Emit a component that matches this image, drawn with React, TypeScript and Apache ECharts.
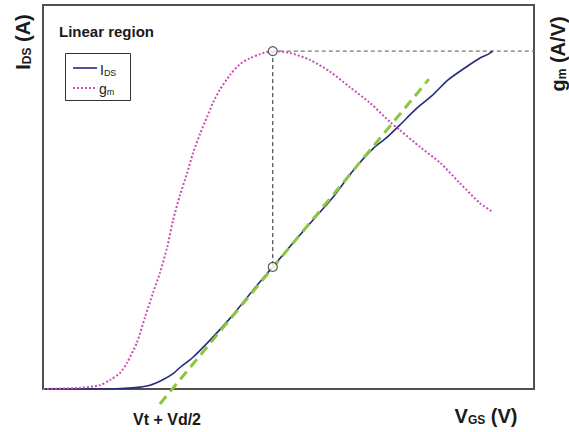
import React, { useEffect, useRef } from "react";
import * as echarts from "echarts";

// I_DS curve (V_GS, I_DS) in arbitrary units
const idsX = [0, 0.75, 1.36, 1.83, 2.18, 2.44, 2.65, 2.79, 3.05, 3.46, 3.87, 4.28, 4.68, 5.09, 5.5, 5.91, 6.31, 6.72, 7.01, 7.27, 7.62, 7.94, 8.25, 8.59, 8.9, 9.04, 9.16];
const idsY = [0, 0, 0, 0.03, 0.1, 0.24, 0.4, 0.56, 0.82, 1.35, 1.93, 2.58, 3.18, 3.8, 4.4, 5.0, 5.68, 6.26, 6.56, 6.88, 7.32, 7.66, 8.05, 8.36, 8.62, 8.7, 8.8];

// g_m curve
const gmX = [0, 0.75, 1.16, 1.36, 1.57, 1.71, 1.91, 2.08, 2.24, 2.38, 2.53, 2.65, 2.79, 2.93, 3.05, 3.2, 3.34, 3.46, 3.6, 3.81, 4.01, 4.22, 4.42, 4.68, 5.03, 5.44, 5.85, 6.25, 6.66, 7.07, 7.27, 7.68, 8.09, 8.49, 8.9, 9.16];
const gmY = [0, 0.03, 0.1, 0.23, 0.42, 0.68, 1.2, 1.88, 2.5, 3.02, 3.7, 4.4, 5.05, 5.6, 6.12, 6.65, 7.08, 7.45, 7.79, 8.18, 8.46, 8.62, 8.72, 8.8, 8.75, 8.57, 8.26, 7.86, 7.45, 6.95, 6.74, 6.3, 5.89, 5.36, 4.84, 4.61];

// tangent (linear extrapolation) line
const tangentX = [2.38, 7.86];
const tangentY = [-0.39, 8.07];

// marker positions
const peakX = 4.68;
const peakGm = 8.8;
const peakIds = 3.18;
const axisMaxX = 10;

const FONT = "'Liberation Sans', Arial, Helvetica, sans-serif";
const IDS_COLOR = "#262a7c";
const GM_COLOR = "#c94fb6";
const TEXT = "#1a1a1a";

export default function App() {
  const ref = useRef<HTMLDivElement>(null);
  useEffect(() => {
    if (!ref.current) return;
    const chart = echarts.init(ref.current, undefined, { renderer: "svg" });
    const zip = (xs: number[], ys: number[]) => xs.map((x, i) => [x, ys[i]]);
    const bigRich = {
      a: { font: `bold 20px ${FONT}`, fill: TEXT, verticalAlign: "bottom", lineHeight: 24 },
      b: { font: `bold 12px ${FONT}`, fill: TEXT, verticalAlign: "bottom", lineHeight: 17 },
    };
    const legRich = {
      a: { font: `14px ${FONT}`, fill: TEXT, verticalAlign: "bottom", lineHeight: 16 },
      b: { font: `9px ${FONT}`, fill: TEXT, verticalAlign: "bottom", lineHeight: 12 },
    };
    chart.setOption({
      animation: false,
      textStyle: { fontFamily: FONT },
      grid: {
        left: 43,
        right: 35,
        top: 5,
        bottom: 43,
        show: true,
        borderColor: "#505050",
        borderWidth: 2,
      },
      xAxis: {
        type: "value",
        min: 0,
        max: axisMaxX,
        axisLine: { show: false },
        axisTick: { show: false },
        axisLabel: { show: false },
        splitLine: { show: false },
      },
      yAxis: {
        type: "value",
        min: 0,
        max: 10,
        axisLine: { show: false },
        axisTick: { show: false },
        axisLabel: { show: false },
        splitLine: { show: false },
      },
      series: [
        {
          name: "tangent",
          type: "line",
          data: zip(tangentX, tangentY),
          showSymbol: false,
          symbol: "none",
          clip: false,
          lineStyle: { color: "#8cc63f", width: 3, type: [10, 6] },
          z: 3,
        },
        {
          name: "IDS",
          type: "line",
          data: zip(idsX, idsY),
          symbol: "none",
          smooth: 0.25,
          lineStyle: { color: IDS_COLOR, width: 1.6 },
          z: 2,
        },
        {
          name: "gm",
          type: "line",
          data: zip(gmX, gmY),
          symbol: "none",
          smooth: 0.25,
          lineStyle: { color: GM_COLOR, width: 2, type: [2, 2] },
          z: 2,
        },
        {
          name: "vguide",
          type: "line",
          data: [[peakX, peakGm], [peakX, peakIds]],
          symbol: "none",
          lineStyle: { color: "#222", width: 1, type: [4, 3] },
          z: 4,
        },
        {
          name: "hguide",
          type: "line",
          data: [[peakX, peakGm], [axisMaxX, peakGm]],
          symbol: "none",
          lineStyle: { color: "#777", width: 1.2, type: [4, 3] },
          z: 1,
        },
        {
          name: "markers",
          type: "scatter",
          data: [[peakX, peakGm], [peakX, peakIds]],
          symbol: "circle",
          symbolSize: 9,
          itemStyle: { color: "#fff", borderColor: "#333", borderWidth: 1.2 },
          z: 6,
        },
      ],
      graphic: [
        {
          type: "text",
          x: 59,
          y: 31,
          style: {
            text: "Linear region",
            font: `bold 15px ${FONT}`,
            fill: TEXT,
            verticalAlign: "middle",
          },
        },
        {
          type: "rect",
          shape: { x: 65.5, y: 53.5, width: 65, height: 47 },
          style: { fill: "#fff", stroke: "#333", lineWidth: 1 },
        },
        {
          type: "line",
          shape: { x1: 73, y1: 68, x2: 97, y2: 68 },
          style: { stroke: IDS_COLOR, lineWidth: 1.6 },
        },
        {
          type: "line",
          shape: { x1: 73, y1: 88, x2: 97, y2: 88 },
          style: { stroke: GM_COLOR, lineWidth: 2, lineDash: [2, 2] },
        },
        {
          type: "text",
          x: 100,
          y: 69,
          style: { text: "{a|I}{b|DS}", verticalAlign: "middle", rich: legRich },
        },
        {
          type: "text",
          x: 99,
          y: 88,
          style: { text: "{a|g}{b|m}", verticalAlign: "middle", rich: legRich },
        },
        {
          type: "text",
          x: 21,
          y: 42,
          rotation: Math.PI / 2,
          style: {
            text: "{a|I}{b|DS}{a| (A)}",
            align: "center",
            verticalAlign: "middle",
            rich: bigRich,
          },
        },
        {
          type: "text",
          x: 556,
          y: 54,
          rotation: Math.PI / 2,
          style: {
            text: "{a|g}{b|m}{a| (A/V)}",
            align: "center",
            verticalAlign: "middle",
            rich: bigRich,
          },
        },
        {
          type: "text",
          x: 167,
          y: 419,
          style: {
            text: "Vt + Vd/2",
            align: "center",
            verticalAlign: "middle",
            font: `bold 16px ${FONT}`,
            fill: TEXT,
          },
        },
        {
          type: "text",
          x: 486,
          y: 414,
          style: {
            text: "{a|V}{b|GS}{a| (V)}",
            align: "center",
            verticalAlign: "middle",
            rich: bigRich,
          },
        },
      ],
    });
    return () => chart.dispose();
  }, []);
  return (
    <div
      ref={ref}
      style={{ position: "fixed", left: 0, top: 0, width: 569, height: 432, background: "#fff" }}
    />
  );
}
